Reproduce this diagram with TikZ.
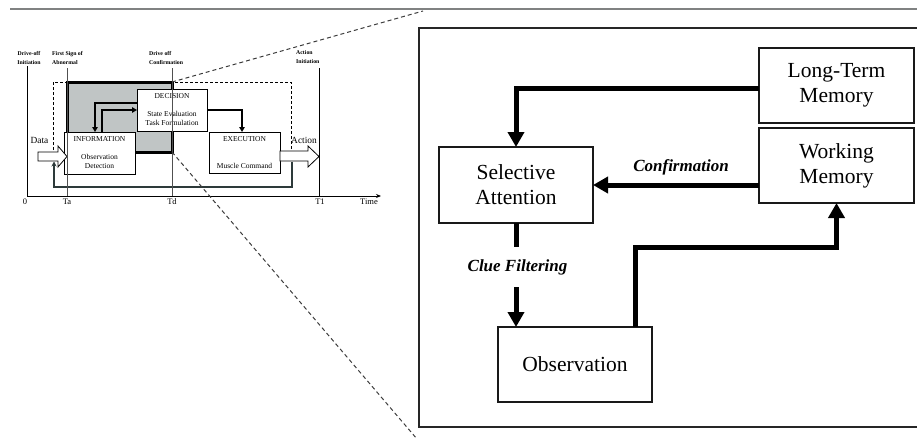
\documentclass[tikz,border=0pt]{standalone}
\usepackage{fontspec}
\setmainfont{Liberation Serif}
\usetikzlibrary{arrows.meta}
\definecolor{boxgray}{RGB}{192,197,197}
\definecolor{loopgray}{RGB}{45,58,58}
\definecolor{axisgray}{RGB}{80,80,80}
\definecolor{topline}{RGB}{128,130,130}
\definecolor{zoomgray}{RGB}{60,60,60}
\tikzset{
  bigbox/.style={draw=black!90, line width=1.3pt, fill=white, minimum width=155pt,
    minimum height=75pt, align=center, inner sep=0pt, outer sep=0pt,
    font=\fontsize{21.5}{25}\selectfont},
  bigarrow/.style={line width=5pt, -{Triangle[length=15pt,width=16pt]}},
  bigline/.style={line width=5pt},
  biglabel/.style={font=\fontsize{17}{20}\selectfont\bfseries\itshape},
  smallbox/.style={draw, line width=0.8pt, fill=white, align=center, inner sep=0pt,
    outer sep=0pt, font=\fontsize{7.5}{9}\selectfont},
  smallarrow/.style={line width=1.8pt, -{Triangle[length=5pt,width=5.5pt]}},
  toplabel/.style={font=\fontsize{5.8}{9}\selectfont\bfseries, inner sep=0pt},
  ticklabel/.style={font=\fontsize{8.5}{10}\selectfont, inner sep=0pt},
  timeline/.style={draw=axisgray, line width=0.8pt},
  dashedline/.style={draw=black, line width=0.8pt, dash pattern=on 3pt off 2pt},
  zoomline/.style={draw=zoomgray, line width=1pt, dash pattern=on 4pt off 3pt},
  blockarrow/.style={draw, line width=0.8pt, fill=white},
}
\begin{document}
\begin{tikzpicture}[x=1pt,y=-1pt]
\useasboundingbox (0,0) rectangle (917,439);

% top rule
\draw[topline, line width=2.2pt] (10,9) -- (917,9);

% ================= LEFT DIAGRAM =================
% dashed frame
\draw[dashedline] (53,150) -- (53,82) -- (291,82) -- (291,150);

% focus gray box
\node[draw=black, line width=3pt, fill=boxgray, minimum width=105pt, minimum height=70pt,
      inner sep=0pt, outer sep=0pt] (focus) at (119.5,117) {};

% boxes
\node[smallbox, minimum width=70pt, minimum height=42pt] (dec) at (172,110)
  {DECISION\\[9pt]State Evaluation\\Task Formulation};
\node[smallbox, minimum width=71pt, minimum height=42pt] (info) at (99.5,153)
  {INFORMATION\\[9pt]Observation\\Detection};
\node[smallbox, minimum width=71pt, minimum height=41pt] (exec) at (244.5,152.5)
  {EXECUTION\\[18pt]Muscle Command};

% arrows between boxes
\draw[smallarrow] ([yshift=7pt]dec.west) -| ([xshift=-4.5pt]info.north);
\draw[smallarrow] ([xshift=2.5pt]info.north) |- (dec.west);
\draw[smallarrow] (dec.east) -| ([xshift=-2.5pt]exec.north);

% block arrows
\draw[blockarrow] (38,152) -- (58,152) -- (58,146) -- (67,156.5) -- (58,167) -- (58,161) -- (38,161) -- cycle;
\draw[blockarrow] (280,151) -- (308,151) -- (308,146) -- (319,156.5) -- (308,167) -- (308,161) -- (280,161) -- cycle;
\coordinate (loopstart) at (292,161.5);
\coordinate (loopend) at (54,161.5);
\draw[loopgray, line width=2pt, -{Stealth[length=5pt,width=5pt]}] (loopstart) -- (292,187) -- (54,187) -- (loopend);

\node[font=\fontsize{9.4}{11}\selectfont, inner sep=0pt] (data) at (39.5,140) {Data};
\node[font=\fontsize{9.4}{11}\selectfont, inner sep=0pt] (action) at (304,140) {Action};

% time lines
\draw[black, line width=0.8pt] (27,66) -- (27,196);
\draw[timeline] (67,68) -- (67,196);
\draw[timeline] (172,68) -- (172,196);
\draw[black, line width=0.8pt] (319,68) -- (319,196);
\draw[black, line width=0.9pt, -{Stealth[length=5pt,width=4pt]}] (27,196) -- (381,196);

% tick labels
\node[ticklabel] (t0) at (25,202) {0};
\node[ticklabel] (ta) at (67,202) {Ta};
\node[ticklabel] (td) at (172,202) {Td};
\node[ticklabel] (t1) at (320,202) {T1};
\node[ticklabel] (time) at (369,202) {Time};

% top labels
\node[toplabel, align=center] (l1) at (29,57.5) {Drive-off\\Initiation};
\node[toplabel, align=left, anchor=west] (l2) at (52,57.5) {First Sign of\\Abnormal};
\node[toplabel, align=left, anchor=west] (l3) at (149,57.5) {Drive off\\Confirmation};
\node[toplabel, align=left, anchor=west] (l4) at (296,57.5) {Action\\Initiation};

% zoom lines
\coordinate (zt) at (423,11);
\coordinate (zb) at (417,439);
\draw[zoomline] (focus.north east) -- (zt);
\draw[zoomline] (focus.south east) -- (zb);

% ================= RIGHT DIAGRAM =================
\draw[black!85, line width=1.5pt] (919,28) -- (419,28) -- (419,427) -- (919,427);

\node[bigbox] (ltm) at (836.5,85.5) {Long-Term\\Memory};
\node[bigbox] (wm) at (836.5,165.5) {Working\\Memory};
\node[bigbox, minimum width=154pt, minimum height=76pt] (sa) at (516,185) {Selective\\Attention};
\node[bigbox, minimum width=154pt] (obs) at (575,364.5) {Observation};

\draw[bigarrow] ([yshift=-2.5pt]ltm.west) -| (sa.north);
\draw[bigarrow] (wm.west |- sa.east) -- (sa.east);
\node[biglabel] (conf) at (681,167) {Confirmation};

\draw[bigline] (sa.south) -- ([yshift=-24pt]sa.south);
\draw[bigarrow] ([yshift=-64pt]sa.south) -- (sa.south |- obs.north);
\node[biglabel] (clue) at (517.5,267) {Clue Filtering};

\draw[bigarrow] ([xshift=60pt]obs.north) -- ++(0,-80) -| (wm.south);
\end{tikzpicture}
\end{document}
